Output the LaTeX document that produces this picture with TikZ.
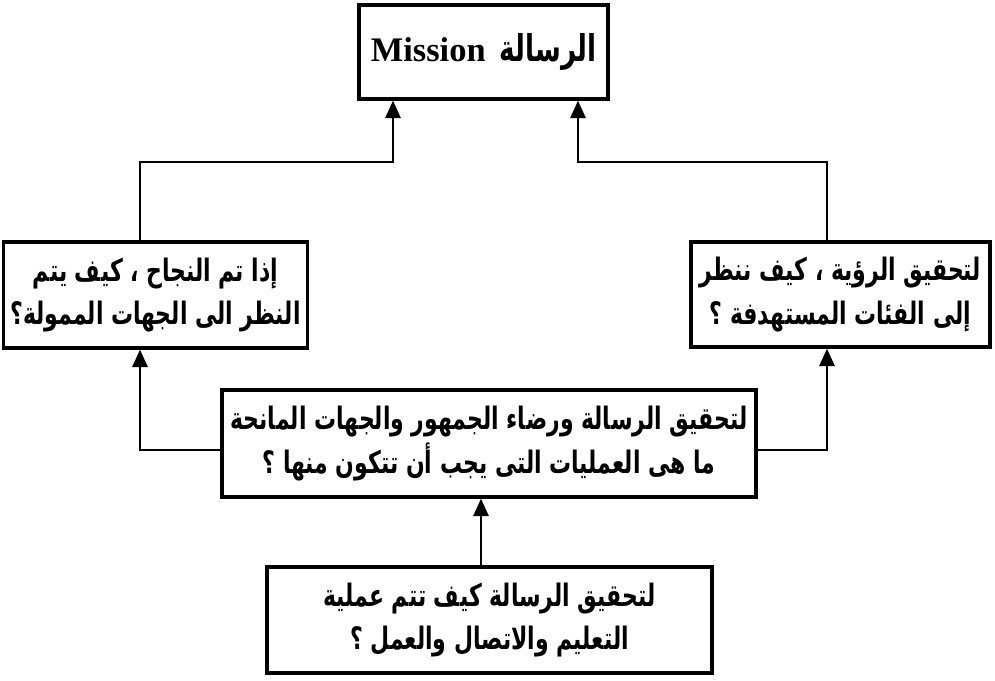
\documentclass[tikz,border=0pt]{standalone}
\usepackage{graphicx}
\usepackage{fontspec}
\setmainfont{Liberation Serif}
\newfontfamily\arabicfont[Script=Arabic]{DejaVu Sans}
\TeXXeTstate=1
\usetikzlibrary{arrows.meta}
\newcommand\arsq[1]{\scalebox{0.71}[1]{#1}}
\newcommand\artext[1]{\arsq{\beginR #1\endR}}

\begin{document}
\begin{tikzpicture}[x=1cm,y=1cm,
	box/.style={draw, line width=0.95pt, inner sep=2pt, align=center,
		font=\arabicfont\bfseries\fontsize{8.8}{12.5}\selectfont},
	link/.style={line width=0.55pt, -{Triangle[length=5pt,width=4.4pt]}}]
	\useasboundingbox (0,0) rectangle (9.95,-6.81);
	%% boxes
	\node[box, minimum width=2.49cm, minimum height=0.94cm] (mission) at (4.835,-0.52)
		{{\rmfamily\bfseries\fontsize{9.8}{12}\selectfont Mission}\hspace{4pt}\arsq{\fontsize{10.5}{12}\selectfont الرسالة}};
	\node[box, minimum width=2.95cm, minimum height=1.06cm] (lbox) at (1.555,-2.95)
		{\artext{إذا تم النجاح ، كيف يتم}\\ \artext{النظر الى الجهات الممولة؟}};
	\node[box, minimum width=2.99cm, minimum height=1.05cm] (rbox) at (8.405,-2.945)
		{\artext{لتحقيق الرؤية ، كيف ننظر}\\ \artext{إلى الفئات المستهدفة ؟}};
	\node[box, minimum width=5.34cm, minimum height=1.07cm] (mbox) at (4.89,-4.435)
		{\artext{لتحقيق الرسالة ورضاء الجمهور والجهات المانحة}\\ \artext{ما هى العمليات التى يجب أن تتكون منها ؟}};
	\node[box, minimum width=4.45cm, minimum height=1.06cm] (bbox) at (4.895,-6.2)
		{\artext{لتحقيق الرسالة كيف تتم عملية}\\ \artext{التعليم والاتصال والعمل ؟}};
	%% bends
	\coordinate (ltop) at (1.40,-1.62);
	\coordinate (rtop) at (8.27,-1.62);
	\coordinate (ma) at (3.93,0);
	\coordinate (mb) at (5.78,0);
	\coordinate (lbot) at (0,-4.5);
	\coordinate (mx) at (4.81,0);
	%% connectors
	\draw[link] (ltop |- lbox.north) -- (ltop) -| (ma |- mission.south);
	\draw[link] (rtop |- rbox.north) -- (rtop) -| (mb |- mission.south);
	\draw[link] (mbox.west |- lbot) -| (ltop |- lbox.south);
	\draw[link] (mbox.east |- lbot) -| (rtop |- rbox.south);
	\draw[link] (mx |- bbox.north) -- (mx |- mbox.south);
\end{tikzpicture}
\end{document}
